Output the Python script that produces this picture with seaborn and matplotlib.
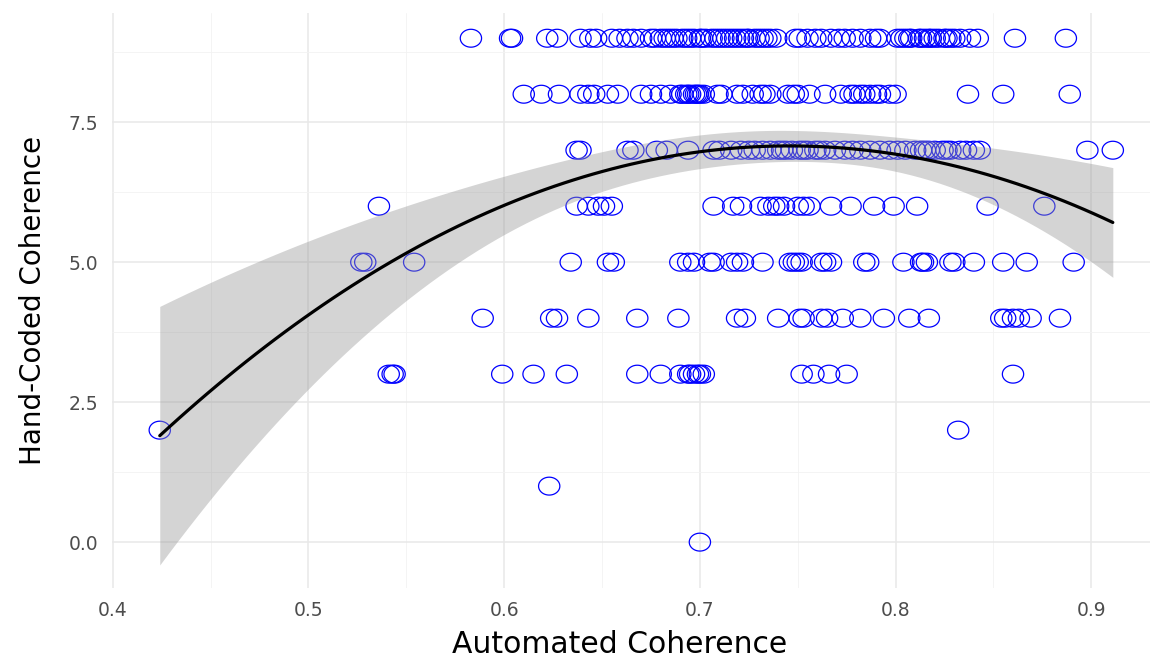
import numpy as np
import pandas as pd
import seaborn as sns
import matplotlib.pyplot as plt
from matplotlib.path import Path
from matplotlib.markers import MarkerStyle
from matplotlib.ticker import MultipleLocator

# automated coherence values, one list per hand-coded score
x_score9 = [0.583, 0.603, 0.604, 0.622, 0.627, 0.639, 0.644, 0.663, 0.666, 0.670,
            0.675, 0.680, 0.684, 0.688, 0.693, 0.695, 0.700, 0.703, 0.706, 0.710,
            0.714, 0.718, 0.722, 0.725, 0.728, 0.732, 0.736, 0.739, 0.749, 0.751,
            0.755, 0.759, 0.762, 0.767, 0.771, 0.774, 0.778, 0.782, 0.787, 0.790,
            0.792, 0.801, 0.805, 0.808, 0.812, 0.815, 0.818, 0.822, 0.825, 0.828,
            0.842, 0.861, 0.887,
            0.647, 0.655, 0.659, 0.677, 0.682, 0.686, 0.691, 0.697, 0.701, 0.708,
            0.712, 0.716, 0.720, 0.724, 0.730, 0.734, 0.803, 0.807, 0.813, 0.817,
            0.820, 0.826, 0.830, 0.833, 0.838]
x_score8 = [0.610, 0.619, 0.628, 0.639, 0.643, 0.653, 0.658, 0.670, 0.675, 0.680,
            0.685, 0.690, 0.693, 0.694, 0.697, 0.699, 0.700, 0.709, 0.719, 0.722,
            0.727, 0.731, 0.736, 0.745, 0.748, 0.756, 0.764, 0.772, 0.777, 0.782,
            0.787, 0.792, 0.797, 0.837, 0.855, 0.889,
            0.646, 0.691, 0.695, 0.698, 0.702, 0.711, 0.733, 0.750, 0.779, 0.784,
            0.790, 0.800]
x_score7 = [0.637, 0.639, 0.663, 0.666, 0.678, 0.683, 0.694, 0.707, 0.710, 0.716,
            0.721, 0.725, 0.728, 0.732, 0.736, 0.740, 0.744, 0.747, 0.751, 0.755,
            0.759, 0.764, 0.769, 0.774, 0.782, 0.787, 0.792, 0.797, 0.805, 0.810,
            0.813, 0.817, 0.820, 0.824, 0.828, 0.833, 0.843, 0.898, 0.911,
            0.742, 0.753, 0.761, 0.778, 0.801, 0.815, 0.826, 0.836, 0.840]
x_score6 = [0.536, 0.637, 0.643, 0.648, 0.651, 0.655, 0.707, 0.717, 0.721, 0.731,
            0.735, 0.738, 0.740, 0.743, 0.750, 0.753, 0.756, 0.767, 0.777, 0.789,
            0.799, 0.811, 0.847, 0.876]
x_score5 = [0.527, 0.529, 0.554, 0.634, 0.653, 0.656, 0.690, 0.694, 0.697, 0.705,
            0.707, 0.716, 0.719, 0.722, 0.732, 0.746, 0.748, 0.750, 0.752, 0.762,
            0.764, 0.767, 0.784, 0.786, 0.804, 0.813, 0.814, 0.816, 0.828, 0.830,
            0.840, 0.855, 0.867, 0.891]
x_score4 = [0.589, 0.624, 0.627, 0.643, 0.668, 0.689, 0.719, 0.723, 0.740, 0.751,
            0.753, 0.762, 0.765, 0.773, 0.782, 0.794, 0.807, 0.817, 0.854, 0.856,
            0.860, 0.863, 0.869, 0.884]
x_score3 = [0.541, 0.543, 0.544, 0.599, 0.615, 0.632, 0.668, 0.680, 0.690, 0.694,
            0.695, 0.697, 0.699, 0.700, 0.702, 0.752, 0.758, 0.766, 0.775, 0.860]
x_score2 = [0.424, 0.832]
x_score1 = [0.623]
x_score0 = [0.700]

groups = {9: x_score9, 8: x_score8, 7: x_score7, 6: x_score6, 5: x_score5,
          4: x_score4, 3: x_score3, 2: x_score2, 1: x_score1, 0: x_score0}

rows = []
for score, xs in groups.items():
    for v in xs:
        rows.append({"auto": v, "hand": score})
df = pd.DataFrame(rows)

# quadratic fit with a 95% confidence band (like geom_smooth(lm, y ~ poly(x, 2)))
xv = df["auto"].to_numpy()
yv = df["hand"].to_numpy(dtype=float)
X = np.column_stack([np.ones_like(xv), xv, xv ** 2])
beta, _, _, _ = np.linalg.lstsq(X, yv, rcond=None)
resid = yv - X @ beta
sigma2 = resid @ resid / (len(yv) - 3)
cov = sigma2 * np.linalg.inv(X.T @ X)
grid = np.linspace(xv.min(), xv.max(), 100)
G = np.column_stack([np.ones_like(grid), grid, grid ** 2])
fit = G @ beta
se = np.sqrt(np.einsum("ij,jk,ik->i", G, cov, G))
lo, hi = fit - 1.97 * se, fit + 1.97 * se

sns.set_theme(style="white")
plt.rcParams["font.family"] = ["DejaVu Sans"]

fig = plt.figure(figsize=(11.5, 6.63), dpi=100)
ax = fig.add_axes([0.0974, 0.113, 0.9026, 0.867])

# grid like ggplot theme_minimal
ax.xaxis.set_major_locator(MultipleLocator(0.1))
ax.xaxis.set_minor_locator(MultipleLocator(0.05))
ax.yaxis.set_major_locator(MultipleLocator(2.5))
ax.yaxis.set_minor_locator(MultipleLocator(1.25))
ax.grid(which="major", color="#e8e8e8", linewidth=1.1)
ax.grid(which="minor", color="#f2f2f2", linewidth=0.6)
ax.set_axisbelow(True)

# slightly wide open circle (the reference is stretched horizontally)
t = np.linspace(0, 2 * np.pi, 64)
ell = Path(np.column_stack([np.cos(t), 0.84 * np.sin(t)]), closed=True)

sns.scatterplot(data=df, x="auto", y="hand", ax=ax, s=235, marker=MarkerStyle(ell),
                facecolors="none", edgecolor="#0000ff", linewidth=0.9, zorder=2)
ax.fill_between(grid, lo, hi, color="#999999", alpha=0.42, linewidth=0, zorder=3)
sns.lineplot(x=grid, y=fit, ax=ax, color="black", linewidth=2.3, zorder=4)

ax.set_xlim(0.3996, 0.93)
ax.set_ylim(-0.821, 9.446)
ax.set_yticks([0, 2.5, 5, 7.5])
ax.set_yticklabels(["0.0", "2.5", "5.0", "7.5"])
ax.set_xticks([0.4, 0.5, 0.6, 0.7, 0.8, 0.9])
ax.set_xticklabels(["0.4", "0.5", "0.6", "0.7", "0.8", "0.9"])
ax.tick_params(axis="x", which="both", length=0, labelsize=13.5,
               labelcolor="#4d4d4d", pad=9)
ax.tick_params(axis="y", which="both", length=0, labelsize=13.5,
               labelcolor="#4d4d4d", pad=10)

ax.set_xlabel("Automated Coherence", fontsize=21.5, color="black")
ax.set_ylabel("Hand-Coded Coherence", fontsize=20, color="black")
ax.xaxis.label.set_verticalalignment("center")
ax.yaxis.label.set_verticalalignment("center")
ax.xaxis.set_label_coords(0.489, -0.099)
ax.yaxis.set_label_coords(-0.076, 0.501)
for s in ax.spines.values():
    s.set_visible(False)

fig.savefig("out.png", dpi=100)
